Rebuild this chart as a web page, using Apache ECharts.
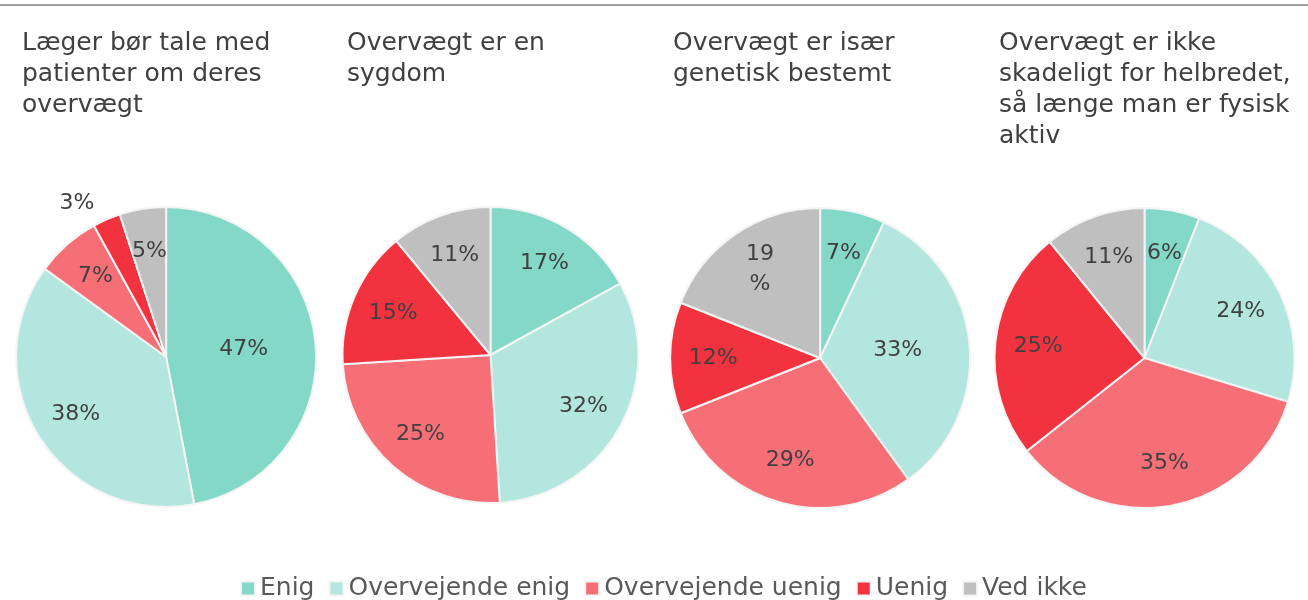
<!DOCTYPE html>
<html>
<head>
<meta charset="utf-8">
<title>Holdninger til overvægt</title>
<script src="https://cdn.jsdelivr.net/npm/echarts@6/dist/echarts.min.js"></script>
<style>
  html, body { margin: 0; padding: 0; background: #fff; }
  #chart { width: 1308px; height: 600px; }
</style>
</head>
<body>
<div id="chart"></div>
<script>
  // svarkategorier
  const categories = ['Enig', 'Overvejende enig', 'Overvejende uenig', 'Uenig', 'Ved ikke']
  const questions = [
    'Læger bør tale med\npatienter om deres\novervægt',
    'Overvægt er en\nsygdom',
    'Overvægt er især\ngenetisk bestemt',
    'Overvægt er ikke\nskadeligt for helbredet,\nså længe man er fysisk\naktiv'
  ]
  const laegerTale = [47, 38, 7, 3, 5]
  const sygdom = [17, 32, 25, 15, 11]
  const genetisk = [7, 33, 29, 12, 19]
  const ikkeSkadeligt = [6, 24, 35, 25, 11]

  const colors = ['#83D8C8', '#B3E6DE', '#F76F76', '#F2333F', '#BFBFBF']
  const textColor = '#404040'
  const font = '"DejaVu Sans", "Open Sans", sans-serif'

  const chart = echarts.init(document.getElementById('chart'))

  // inner: etiket midt i skiven, outside: etiket udenfor, wrap: procenttegn paa ny linje
  const pies = [
    { values: laegerTale, cx: '12.7%', cy: 357, r: 150, outside: [3], inner: [0] },
    { values: sygdom, cx: '37.5%', cy: 355, r: 148 },
    { values: genetisk, cx: '62.7%', cy: 358, r: 150, wrap: [4], inner: [1] },
    { values: ikkeSkadeligt, cx: '87.5%', cy: 358, r: 150 }
  ]
  const titleLeft = [22, 347, 673, 999]

  const has = (list, i) => !!list && list.includes(i)

  const labelStyle = {
    formatter: '{c}%',
    color: textColor,
    fontSize: 22,
    fontFamily: font
  }

  function sliceData(p) {
    return p.values.map((v, i) => {
      const item = { name: categories[i], value: v }
      if (has(p.outside, i)) {
        item.label = { position: 'outside' }
        item.labelLine = { show: false, length: 18, length2: 0 }
      }
      if (has(p.wrap, i)) {
        item.label = { formatter: '{c}\n%', lineHeight: 30 }
      }
      if (has(p.inner, i)) {
        item.label = { show: false }
      }
      return item
    })
  }

  const series = []
  pies.forEach(p => {
    // selve lagkagen
    series.push({
      type: 'pie',
      center: [p.cx, p.cy],
      radius: [0, p.r],
      startAngle: 90,
      clockwise: true,
      label: Object.assign({ show: false, position: 'inside' }, labelStyle),
      labelLine: { show: false },
      itemStyle: { borderColor: '#F4F4F4', borderWidth: 2 },
      data: p.values.map((v, i) => ({
        name: categories[i],
        value: v,
        itemStyle: { color: colors[i] },
        label: { show: has(p.inner, i) }
      }))
    })
    // usynlig ring kun til dataetiketter
    series.push({
      type: 'pie',
      center: [p.cx, p.cy],
      radius: [58, p.r],
      startAngle: 90,
      clockwise: true,
      silent: true,
      legendHoverLink: false,
      itemStyle: { color: 'rgba(0,0,0,0)', borderWidth: 0 },
      label: Object.assign({ show: true, position: 'inside' }, labelStyle),
      labelLine: { show: false },
      emphasis: { disabled: true },
      data: sliceData(p)
    })
  })

  chart.setOption({
    animation: false,
    backgroundColor: '#fff',
    color: colors,
    title: questions.map((q, i) => ({
      text: q,
      left: titleLeft[i],
      top: 28,
      padding: 0,
      textStyle: {
        fontSize: 25,
        fontWeight: 'normal',
        color: textColor,
        fontFamily: font,
        lineHeight: 31
      }
    })),
    legend: {
      data: categories.map((c, i) => ({ name: c, itemStyle: { color: colors[i] } })),
      left: 240,
      top: 576,
      icon: 'rect',
      itemWidth: 14,
      itemHeight: 14,
      itemGap: 14,
      padding: 0,
      textStyle: { fontSize: 25, color: '#595959', fontFamily: font }
    },
    graphic: [{
      type: 'line',
      shape: { x1: 0, y1: 5, x2: 1308, y2: 5 },
      style: { stroke: '#A0A0A0', lineWidth: 2 }
    }],
    series: series
  })
</script>
</body>
</html>
